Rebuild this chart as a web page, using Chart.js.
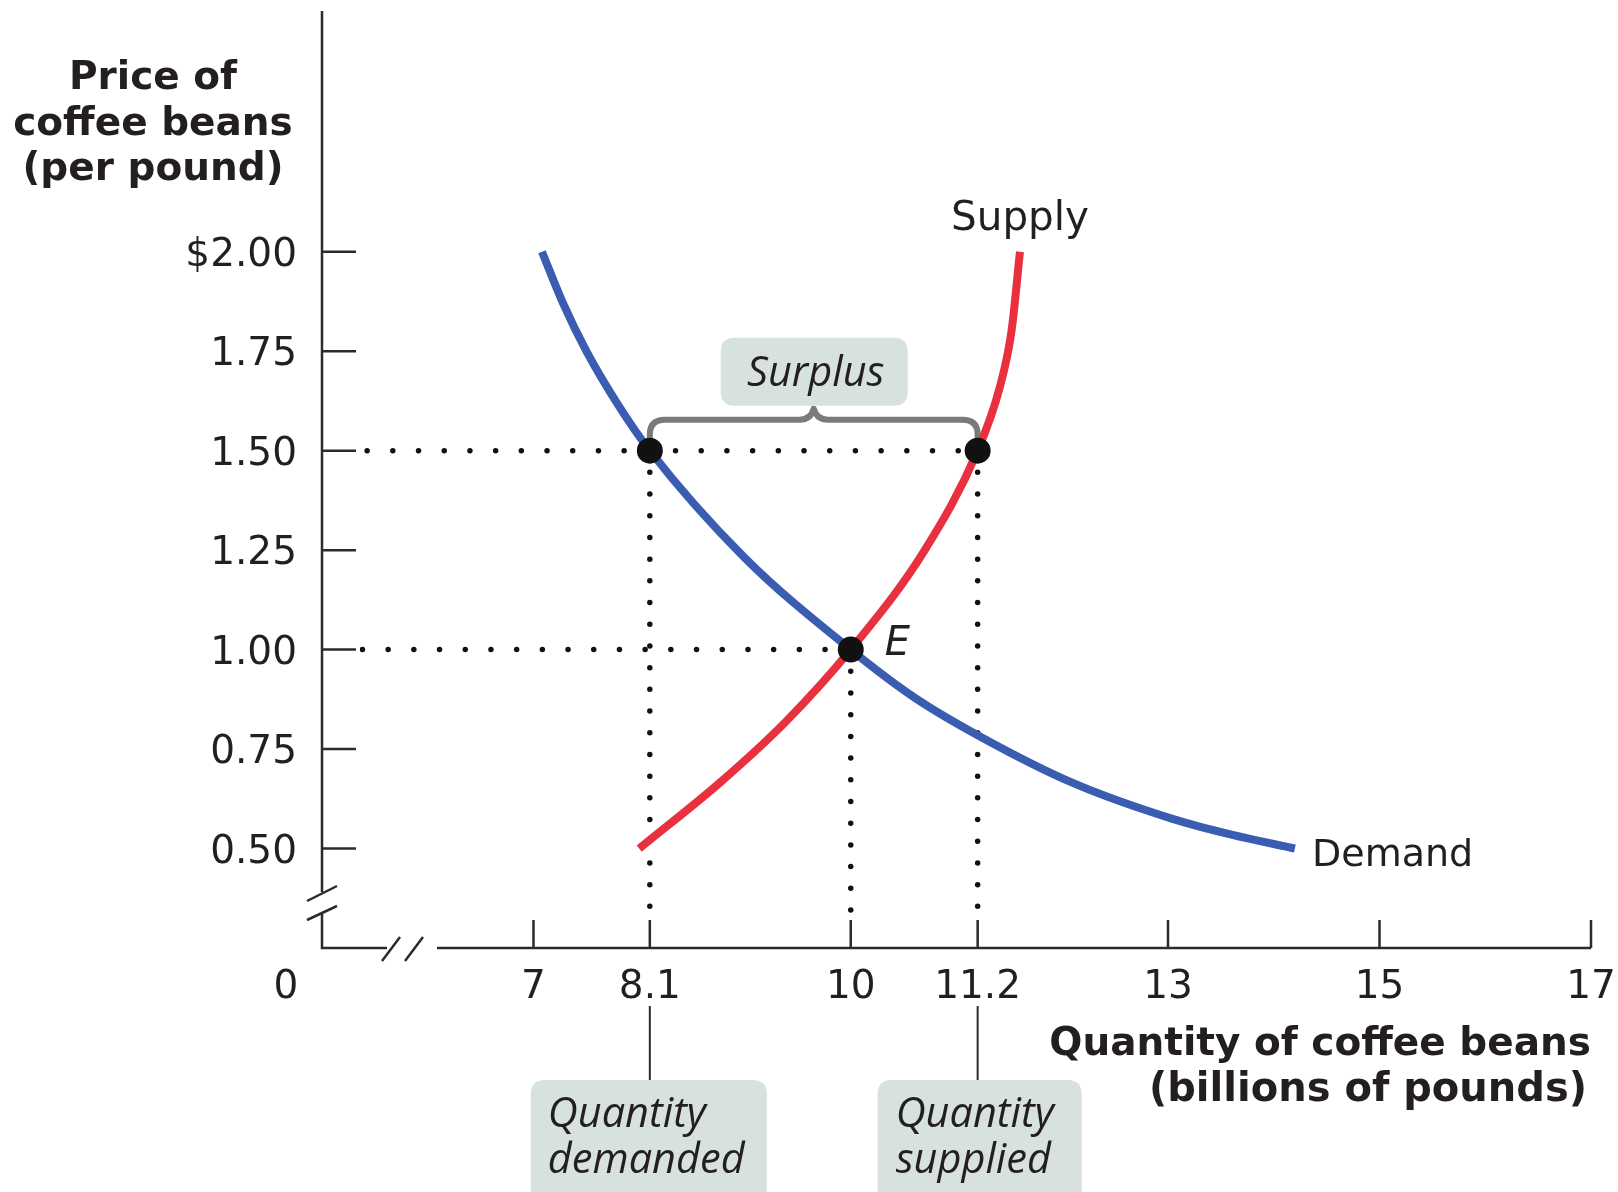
<!DOCTYPE html>
<html>
<head>
<meta charset="utf-8">
<title>Surplus in the coffee bean market</title>
<script src="https://cdn.jsdelivr.net/npm/chart.js@4/dist/chart.umd.min.js"></script>
<style>
  html, body { margin: 0; padding: 0; background: #ffffff; }
  canvas { display: block; }
</style>
</head>
<body>
<canvas id="market" width="1618" height="1192"></canvas>
<script>
// Demand curve (quantity in billions of pounds, price per pound)
const demandQty   = [7.08, 7.28, 7.5, 7.8, 8.1, 9.0, 10.0, 10.6, 11.2, 12.1, 13.05, 13.6, 14.2];
const demandPrice = [2.0, 1.87, 1.75, 1.615, 1.5, 1.23, 1.0, 0.88, 0.785, 0.665, 0.574, 0.535, 0.5];

// Supply curve
const supplyQty   = [8.0, 8.76, 9.39, 10.0, 10.7, 11.2, 11.41, 11.52, 11.6];
const supplyPrice = [0.5, 0.665, 0.82, 1.0, 1.25, 1.5, 1.66, 1.8, 2.0];

// Market outcomes
const equilibriumQty = 10;
const equilibriumPrice = 1.0;
const floorPrice = 1.5;
const quantityDemanded = 8.1;
const quantitySupplied = 11.2;

// Axis ticks
const qtyMin = 5, qtyMax = 17;
const priceMin = 0.25, priceMax = 2.6;
const qtyTicks = [7, 8.1, 10, 11.2, 13, 15, 17];
const qtyTickLabels = ['7', '8.1', '10', '11.2', '13', '15', '17'];
const priceTicks = [0.5, 0.75, 1.0, 1.25, 1.5, 1.75, 2.0];
const priceTickLabels = ['0.50', '0.75', '1.00', '1.25', '1.50', '1.75', '$2.00'];

const INK = '#231f20';
const BOX_FILL = '#d7e1df';
const Y_TICK_LEN = 34;
const X_TICK_LEN = 28;

const toPoints = (xs, ys) => xs.map((v, i) => ({ x: v, y: ys[i] }));

function roundedBox(ctx, x, y, w, h, r) {
  ctx.beginPath();
  ctx.moveTo(x + r, y);
  ctx.lineTo(x + w - r, y);
  ctx.quadraticCurveTo(x + w, y, x + w, y + r);
  ctx.lineTo(x + w, y + h - r);
  ctx.quadraticCurveTo(x + w, y + h, x + w - r, y + h);
  ctx.lineTo(x + r, y + h);
  ctx.quadraticCurveTo(x, y + h, x, y + h - r);
  ctx.lineTo(x, y + r);
  ctx.quadraticCurveTo(x, y, x + r, y);
  ctx.closePath();
}

// Axes with broken origin, inward tick marks and the surplus brace
const axesPlugin = {
  id: 'axesPlugin',
  beforeDatasetsDraw(chart) {
    const { ctx, chartArea: a, scales: { x, y } } = chart;
    const x0 = a.left, y0 = a.bottom;
    ctx.save();
    ctx.strokeStyle = '#2b2b2b';
    ctx.lineWidth = 2.5;
    ctx.lineCap = 'butt';

    // vertical axis, interrupted near the origin
    ctx.beginPath();
    ctx.moveTo(x0, a.top - 2);
    ctx.lineTo(x0, y0 - 56);
    ctx.moveTo(x0, y0 - 34);
    ctx.lineTo(x0, y0);
    ctx.lineTo(x0 + 65, y0);
    ctx.moveTo(x0 + 115, y0);
    ctx.lineTo(a.right, y0);
    ctx.stroke();

    // break marks
    ctx.beginPath();
    ctx.moveTo(x0 - 15, y0 - 47); ctx.lineTo(x0 + 15, y0 - 62);
    ctx.moveTo(x0 - 15, y0 - 28); ctx.lineTo(x0 + 15, y0 - 42);
    ctx.moveTo(x0 + 60, y0 + 13); ctx.lineTo(x0 + 78, y0 - 11);
    ctx.moveTo(x0 + 83, y0 + 13); ctx.lineTo(x0 + 101, y0 - 11);
    ctx.stroke();

    // tick marks
    ctx.beginPath();
    priceTicks.forEach(v => {
      const py = y.getPixelForValue(v);
      ctx.moveTo(x0, py); ctx.lineTo(x0 + Y_TICK_LEN, py);
    });
    qtyTicks.forEach(v => {
      const px = x.getPixelForValue(v);
      ctx.moveTo(px, y0); ctx.lineTo(px, y0 - X_TICK_LEN);
    });
    ctx.stroke();

    // leader lines down to the quantity boxes
    ctx.lineWidth = 2;
    ctx.beginPath();
    [quantityDemanded, quantitySupplied].forEach(v => {
      const px = x.getPixelForValue(v);
      ctx.moveTo(px, y0 + 58); ctx.lineTo(px, y0 + 132);
    });
    ctx.stroke();

    // brace spanning the surplus
    const xl = x.getPixelForValue(quantityDemanded);
    const xr = x.getPixelForValue(quantitySupplied);
    const xc = (xl + xr) / 2;
    const yp = y.getPixelForValue(floorPrice);
    const yb = yp - 31, r = 15;
    ctx.strokeStyle = '#7a7a7a';
    ctx.lineWidth = 6;
    ctx.lineJoin = 'round';
    ctx.beginPath();
    ctx.moveTo(xl, yp - 4);
    ctx.lineTo(xl, yb + r);
    ctx.quadraticCurveTo(xl, yb, xl + r, yb);
    ctx.lineTo(xc - 14, yb);
    ctx.quadraticCurveTo(xc - 3, yb, xc, yb - 11);
    ctx.quadraticCurveTo(xc + 3, yb, xc + 14, yb);
    ctx.lineTo(xr - r, yb);
    ctx.quadraticCurveTo(xr, yb, xr, yb + r);
    ctx.lineTo(xr, yp - 4);
    ctx.stroke();
    ctx.restore();
  }
};

// Tick labels, axis titles, curve names and callouts
const labelPlugin = {
  id: 'labelPlugin',
  afterDraw(chart) {
    const { ctx, chartArea: a, scales: { x, y } } = chart;
    ctx.save();
    ctx.fillStyle = INK;
    ctx.textBaseline = 'alphabetic';

    ctx.font = '39px "DejaVu Sans"';
    ctx.textAlign = 'right';
    priceTicks.forEach((v, i) => {
      ctx.fillText(priceTickLabels[i], a.left - 25, y.getPixelForValue(v) + 14);
    });
    ctx.textAlign = 'center';
    qtyTicks.forEach((v, i) => {
      ctx.fillText(qtyTickLabels[i], x.getPixelForValue(v), a.bottom + 50);
    });
    ctx.fillText('0', a.left - 36, a.bottom + 50);

    // axis titles
    ctx.font = 'bold 39px "DejaVu Sans"';
    ctx.textAlign = 'center';
    ctx.fillText('Price of', 153, 89);
    ctx.fillText('coffee beans', 153, 134.5);
    ctx.fillText('(per pound)', 153, 180);
    ctx.textAlign = 'right';
    ctx.fillText('Quantity of coffee beans', a.right, a.bottom + 107);
    ctx.font = 'bold 40px "DejaVu Sans"';
    ctx.fillText('(billions of pounds)', a.right - 4, a.bottom + 153);

    // curve names
    ctx.textAlign = 'left';
    ctx.font = '40.5px "DejaVu Sans"';
    ctx.fillText('Supply', 951, 230);
    ctx.font = '38px "DejaVu Sans"';
    ctx.fillText('Demand', 1312, 866);

    // equilibrium label
    ctx.font = 'italic 40px "DejaVu Sans"';
    ctx.fillText('E', x.getPixelForValue(equilibriumQty) + 34, y.getPixelForValue(equilibriumPrice) + 5);

    // callout boxes
    const xl = x.getPixelForValue(quantityDemanded);
    const xr = x.getPixelForValue(quantitySupplied);
    const xc = (xl + xr) / 2;
    const yp = y.getPixelForValue(floorPrice);

    ctx.fillStyle = BOX_FILL;
    roundedBox(ctx, xc - 93, yp - 113, 187, 68, 14);
    ctx.fill();
    roundedBox(ctx, xl - 119, a.bottom + 132, 236, 140, 14);
    ctx.fill();
    roundedBox(ctx, xr - 100, a.bottom + 132, 204, 140, 14);
    ctx.fill();

    ctx.fillStyle = INK;
    ctx.font = 'italic 41.5px "Open Sans"';
    ctx.textAlign = 'center';
    ctx.fillText('Surplus', xc + 2, yp - 65);
    ctx.textAlign = 'left';
    ctx.fillText('Quantity', xl - 102, a.bottom + 179);
    ctx.fillText('demanded', xl - 102, a.bottom + 225);
    ctx.fillText('Quantity', xr - 82, a.bottom + 179);
    ctx.fillText('supplied', xr - 82, a.bottom + 225);
    ctx.restore();
  }
};

// Dotted guide lines; the clip keeps the dots off the tick marks
const dotted = (pts, gap, clip) => ({
  data: pts,
  borderColor: '#111111',
  borderWidth: 5.5,
  borderCapStyle: 'round',
  borderDash: [0, gap],
  pointRadius: 0,
  tension: 0,
  clip: clip,
  order: 3
});
const clipH = { left: -(Y_TICK_LEN + 4), top: false, right: false, bottom: false };
const clipV = { left: false, top: false, right: false, bottom: -(X_TICK_LEN + 4) };

new Chart(document.getElementById('market'), {
  type: 'line',
  data: {
    datasets: [
      dotted([{ x: quantityDemanded, y: floorPrice }, { x: qtyMin, y: floorPrice }], 25.7, clipH),
      dotted([{ x: quantityDemanded, y: floorPrice }, { x: quantitySupplied, y: floorPrice }], 25.7, clipH),
      dotted([{ x: equilibriumQty, y: equilibriumPrice }, { x: qtyMin, y: equilibriumPrice }], 25.7, clipH),
      dotted([{ x: quantityDemanded, y: floorPrice }, { x: quantityDemanded, y: priceMin }], 21.7, clipV),
      dotted([{ x: equilibriumQty, y: equilibriumPrice }, { x: equilibriumQty, y: priceMin }], 21.7, clipV),
      dotted([{ x: quantitySupplied, y: floorPrice }, { x: quantitySupplied, y: priceMin }], 21.7, clipV),
      {
        label: 'Demand',
        data: toPoints(demandQty, demandPrice),
        borderColor: '#3a5cb1',
        borderWidth: 8,
        borderCapStyle: 'butt',
        cubicInterpolationMode: 'monotone',
        pointRadius: 0,
        order: 2
      },
      {
        label: 'Supply',
        data: toPoints(supplyQty, supplyPrice),
        borderColor: '#e8303e',
        borderWidth: 8,
        borderCapStyle: 'butt',
        cubicInterpolationMode: 'monotone',
        pointRadius: 0,
        order: 2
      },
      {
        label: 'Market points',
        data: [
          { x: quantityDemanded, y: floorPrice },
          { x: quantitySupplied, y: floorPrice },
          { x: equilibriumQty, y: equilibriumPrice }
        ],
        showLine: false,
        pointRadius: 13,
        pointBackgroundColor: '#111111',
        pointBorderWidth: 0,
        order: 1
      }
    ]
  },
  options: {
    responsive: false,
    animation: false,
    devicePixelRatio: 1,
    events: [],
    layout: { padding: { left: 322, right: 27, top: 12, bottom: 244 } },
    scales: {
      x: { type: 'linear', min: qtyMin, max: qtyMax, display: false },
      y: { type: 'linear', min: priceMin, max: priceMax, display: false }
    },
    plugins: {
      legend: { display: false },
      tooltip: { enabled: false }
    }
  },
  plugins: [axesPlugin, labelPlugin]
});
</script>
</body>
</html>
